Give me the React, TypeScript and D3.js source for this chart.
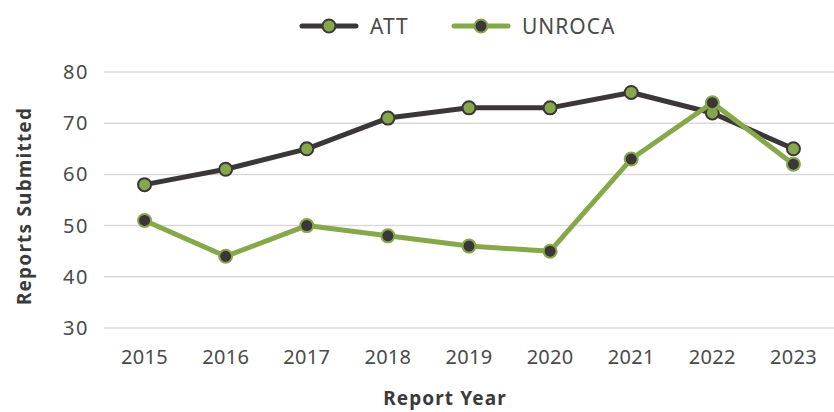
import React, { useEffect, useRef } from 'react'
import * as d3 from 'd3'

const YEARS = ['2015', '2016', '2017', '2018', '2019', '2020', '2021', '2022', '2023']
const ATT = [58, 61, 65, 71, 73, 73, 76, 72, 65]
const UNROCA = [51, 44, 50, 48, 46, 45, 63, 74, 62]
const Y_TICKS = [30, 40, 50, 60, 70, 80]

const DARK = '#3b3738'
const GREEN = '#86a84b'
const FONT = "'Noto Sans', 'Open Sans', sans-serif"

const W = 834
const H = 412

export default function App() {
  const svgRef = useRef<SVGSVGElement | null>(null)

  useEffect(() => {
    const svg = d3.select(svgRef.current)
    svg.selectAll('*').remove()

    const margin = { top: 72, right: 0, bottom: 84, left: 104 }
    const x = d3.scaleBand().domain(YEARS).range([margin.left, W - margin.right])
    const y = d3.scaleLinear().domain([30, 80]).range([H - margin.bottom, margin.top])
    const cx = (d: string) => (x(d) || 0) + x.bandwidth() / 2

    // gridlines
    svg.append('g').selectAll('line').data(Y_TICKS).join('line')
      .attr('x1', margin.left).attr('x2', W)
      .attr('y1', d => y(d)).attr('y2', d => y(d))
      .attr('stroke', '#d9d9d9').attr('stroke-width', 1.5)

    // y tick labels
    svg.append('g').selectAll('text').data(Y_TICKS).join('text')
      .attr('x', 89).attr('y', d => y(d) + 7)
      .attr('text-anchor', 'end').attr('fill', '#4a4a4a')
      .attr('font-size', 20).attr('letter-spacing', 1.5).attr('font-family', FONT)
      .text(d => d)

    // x tick labels
    svg.append('g').selectAll('text').data(YEARS).join('text')
      .attr('x', d => cx(d)).attr('y', 364)
      .attr('text-anchor', 'middle').attr('fill', '#4a4a4a')
      .attr('font-size', 20).attr('letter-spacing', 0.3).attr('font-family', FONT)
      .text(d => d)

    // axis titles
    svg.append('text')
      .attr('x', 445).attr('y', 405)
      .attr('text-anchor', 'middle').attr('fill', '#3a3a3a')
      .attr('font-size', 19).attr('font-weight', 'bold').attr('letter-spacing', 1.1)
      .attr('font-family', FONT)
      .text('Report Year')
    svg.append('text')
      .attr('transform', 'translate(31,206) rotate(-90)')
      .attr('text-anchor', 'middle').attr('fill', '#3a3a3a')
      .attr('font-size', 19).attr('font-weight', 'bold').attr('letter-spacing', 1.2)
      .attr('font-family', FONT)
      .text('Reports Submitted')

    const series = [
      { name: 'ATT', values: ATT, line: DARK, fill: GREEN, stroke: DARK },
      { name: 'UNROCA', values: UNROCA, line: GREEN, fill: DARK, stroke: GREEN },
    ]

    const lineGen = d3.line<number>()
      .x((_, i) => cx(YEARS[i]))
      .y(d => y(d))

    series.forEach(s => {
      const g = svg.append('g')
      g.append('path').datum(s.values)
        .attr('d', lineGen)
        .attr('fill', 'none').attr('stroke', s.line)
        .attr('stroke-width', 5).attr('stroke-linejoin', 'round')
      g.selectAll('circle').data(s.values).join('circle')
        .attr('cx', (_, i) => cx(YEARS[i])).attr('cy', d => y(d))
        .attr('r', 6.5).attr('fill', s.fill)
        .attr('stroke', s.stroke).attr('stroke-width', 2)
    })

    // legend
    const legend = [
      { name: 'ATT', x0: 300, line: DARK, fill: GREEN, stroke: DARK },
      { name: 'UNROCA', x0: 452, line: GREEN, fill: DARK, stroke: GREEN },
    ]
    legend.forEach(l => {
      const g = svg.append('g').attr('transform', `translate(${l.x0},26)`)
      g.append('line').attr('x1', 2).attr('x2', 56).attr('y1', 0).attr('y2', 0)
        .attr('stroke', l.line).attr('stroke-width', 5).attr('stroke-linecap', 'round')
      g.append('circle').attr('cx', 29).attr('cy', 0).attr('r', 6.5)
        .attr('fill', l.fill).attr('stroke', l.stroke).attr('stroke-width', 2)
      g.append('text').attr('x', 70).attr('y', 8)
        .attr('fill', '#4a4a4a').attr('font-size', 21).attr('letter-spacing', 1)
        .attr('font-family', FONT)
        .text(l.name)
    })
  }, [])

  return (
    <div style={{ position: 'fixed', left: 0, top: 0, width: W, height: H, background: '#fff' }}>
      <svg ref={svgRef} width={W} height={H} style={{ display: 'block' }} />
    </div>
  )
}
